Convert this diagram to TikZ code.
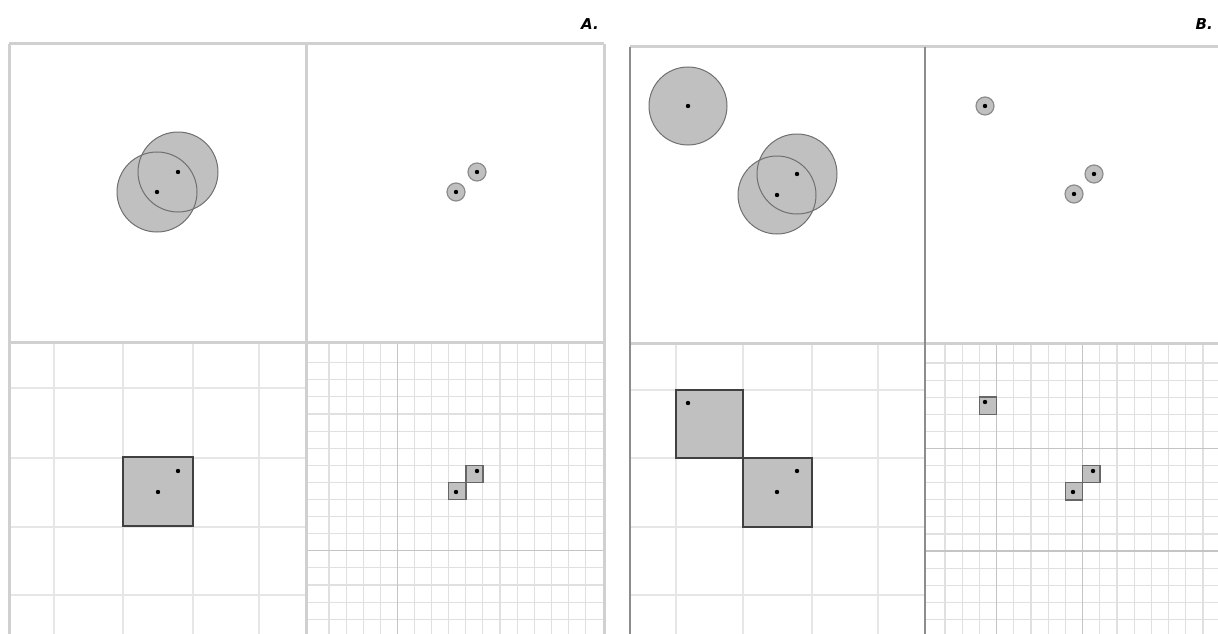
\documentclass[tikz,border=0pt]{standalone}
\usepackage{fontspec}
\setsansfont{DejaVu Sans}
\definecolor{frameL}{HTML}{D0D0D0}
\definecolor{frameD}{HTML}{8C8C8C}
\definecolor{gridC}{HTML}{E6E6E6}
\definecolor{fineC}{HTML}{E0E0E0}
\definecolor{fineD}{HTML}{C4C4C4}
\definecolor{shade}{HTML}{C0C0C0}
\definecolor{edge}{HTML}{707070}
\tikzset{
  frame/.style={draw=frameL, line width=3pt},
  frameb/.style={draw=frameD, line width=2.5pt},
  coarse/.style={draw=gridC, line width=1.5pt},
  fine/.style={draw=fineC, line width=1.1pt},
  finedark/.style={draw=fineD, line width=1.1pt},
  bigcirc/.style={fill=shade},
  bigedge/.style={draw=edge, line width=1pt},
  smallcirc/.style={fill=shade, draw=black!45, line width=1.2pt},
  bigsq/.style={fill=shade, draw=black!75, line width=2pt},
  smallsq/.style={fill=shade, draw=black!60, line width=1.5pt},
  dotp/.style={fill=black},
  lab/.style={font=\sffamily\bfseries\itshape\fontsize{15}{15}\selectfont, inner sep=0pt}
}
\begin{document}
\begin{tikzpicture}[x=1pt, y=-1pt]
\useasboundingbox (0,0) rectangle (1218,634);
\fill[white] (0,0) rectangle (1218,634);
\begin{scope}
\clip (0,0) rectangle (1218,634);

% ---------- Panel A ----------
% bottom-left coarse grid
\foreach \x in {54,123,193,259} \draw[coarse] (\x,343) -- (\x,634);
\foreach \y in {388,458,527,595} \draw[coarse] (9,\y) -- (306,\y);
% bottom-right fine grid
\foreach \k in {0,...,15} \draw[fine] ({329+17.1*\k},343) -- ({329+17.1*\k},634);
\foreach \k in {0,...,16} \draw[fine] (306,{362.7+17.1*\k}) -- (604,{362.7+17.1*\k});
\draw[finedark] (397.4,343) -- (397.4,634);
\draw[finedark] (306,550.8) -- (604,550.8);

% frames A
\draw[frame] (9,44) -- (604,44);
\draw[frame] (9,44) -- (9,634);
\draw[frame] (306,44) -- (306,634);
\draw[frame] (604,44) -- (604,634);
\draw[frame] (9,342) -- (604,342);

% top-left circles A
\fill[bigcirc] (157,192) circle (40);
\fill[bigcirc] (178,172) circle (40);
\draw[bigedge] (157,192) circle (40);
\draw[bigedge] (178,172) circle (40);
\fill[dotp] (157,192) circle (2.2);
\fill[dotp] (178,172) circle (2.2);

% top-right small circles A
\filldraw[smallcirc] (456,192) circle (9);
\filldraw[smallcirc] (477,172) circle (9);
\fill[dotp] (456,192) circle (2.2);
\fill[dotp] (477,172) circle (2.2);

% bottom-left square A
\filldraw[bigsq] (123,457) rectangle (193,526);
\fill[dotp] (158,492) circle (2.2);
\fill[dotp] (178,471) circle (2.2);

% bottom-right small squares A
\filldraw[smallsq] (448.7,482.4) rectangle (465.8,499.5);
\filldraw[smallsq] (465.8,465.3) rectangle (482.9,482.4);
\fill[dotp] (456,492) circle (2.2);
\fill[dotp] (477,471) circle (2.2);

% ---------- Panel B ----------
% bottom-left coarse grid
\foreach \x in {676,743,812,878} \draw[coarse] (\x,344) -- (\x,634);
\foreach \y in {390,458,527,595} \draw[coarse] (630,\y) -- (925,\y);
% bottom-right fine grid
\foreach \k in {0,...,16} \draw[fine] ({945+17.2*\k},344) -- ({945+17.2*\k},634);
\foreach \k in {0,...,16} \draw[fine] (925,{363+17.1*\k}) -- (1218,{363+17.1*\k});
\draw[finedark] (996.6,344) -- (996.6,634);
\draw[finedark] (1082.6,344) -- (1082.6,634);
\draw[finedark] (925,448.5) -- (1218,448.5);
\draw[finedark] (925,551) -- (1218,551);

% frames B
\draw[frame] (630,47) -- (1218,47);
\draw[frame] (630,343) -- (1218,343);
\draw[frameb] (630,47) -- (630,634);
\draw[frameb] (925,47) -- (925,634);

% top-left circles B
\fill[bigcirc] (688,106) circle (39);
\fill[bigcirc] (777,195) circle (39);
\fill[bigcirc] (797,174) circle (40);
\draw[bigedge] (688,106) circle (39);
\draw[bigedge] (777,195) circle (39);
\draw[bigedge] (797,174) circle (40);
\fill[dotp] (688,106) circle (2.2);
\fill[dotp] (777,195) circle (2.2);
\fill[dotp] (797,174) circle (2.2);

% top-right small circles B
\filldraw[smallcirc] (985,106) circle (9);
\filldraw[smallcirc] (1074,194) circle (9);
\filldraw[smallcirc] (1094,174) circle (9);
\fill[dotp] (985,106) circle (2.2);
\fill[dotp] (1074,194) circle (2.2);
\fill[dotp] (1094,174) circle (2.2);

% bottom-left squares B
\filldraw[bigsq] (676,390) rectangle (743,458);
\filldraw[bigsq] (743,458) rectangle (812,527);
\fill[dotp] (688,403) circle (2.2);
\fill[dotp] (777,492) circle (2.2);
\fill[dotp] (797,471) circle (2.2);

% bottom-right small squares B
\filldraw[smallsq] (979.4,397.2) rectangle (996.6,414.3);
\filldraw[smallsq] (1065.4,482.7) rectangle (1082.6,499.8);
\filldraw[smallsq] (1082.6,465.6) rectangle (1099.8,482.7);
\fill[dotp] (985,402) circle (2.2);
\fill[dotp] (1073,492) circle (2.2);
\fill[dotp] (1093,471) circle (2.2);
\end{scope}

% labels
\node[lab, anchor=base east] (labA) at (599,30) {A.};
\node[lab, anchor=base east] (labB) at (1213,30) {B.};
\end{tikzpicture}
\end{document}
